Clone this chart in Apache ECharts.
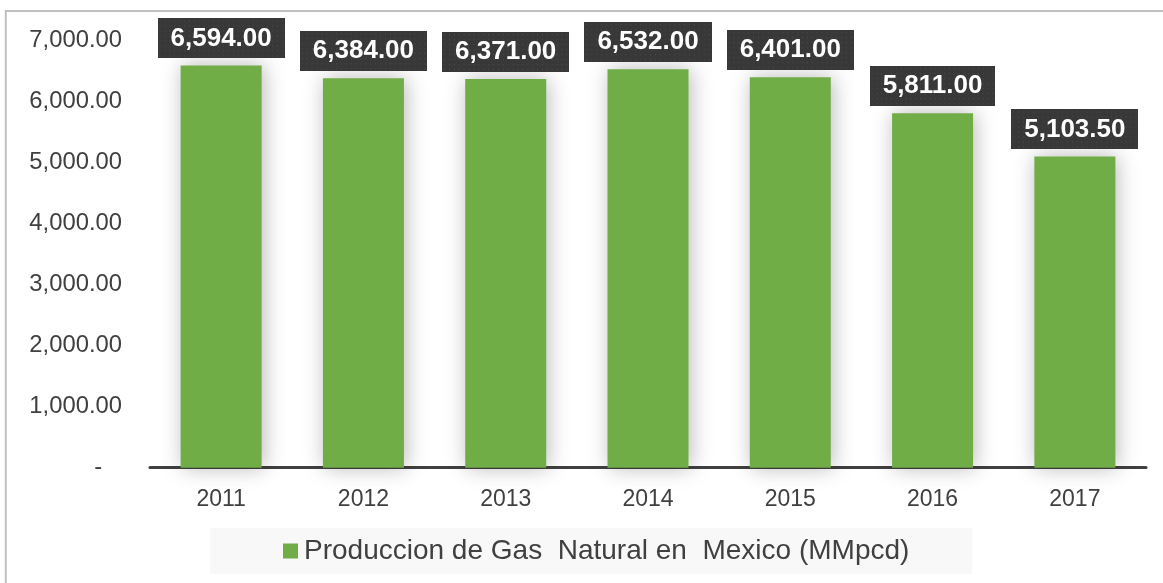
<!DOCTYPE html>
<html>
<head>
<meta charset="utf-8">
<script src="https://cdn.jsdelivr.net/npm/echarts@6/dist/echarts.min.js"></script>
<style>
html,body{margin:0;padding:0;background:#fff;}
#c{width:1163px;height:583px;}
</style>
</head>
<body>
<div id="c"></div>
<script>
const categories = ['2011','2012','2013','2014','2015','2016','2017'];
const values = [6594.00, 6384.00, 6371.00, 6532.00, 6401.00, 5811.00, 5103.50];
const seriesName = 'Produccion de Gas  Natural en  Mexico (MMpcd)';
const yTicks = [0, 1000, 2000, 3000, 4000, 5000, 6000, 7000];

function fmt(v, d) {
  return v.toLocaleString('en-US', {minimumFractionDigits: d, maximumFractionDigits: d});
}

// dotted dark texture for the data label boxes
const tex = document.createElement('canvas');
tex.width = 130; tex.height = 40;
(function () {
  const g = tex.getContext('2d');
  g.fillStyle = '#383838';
  g.fillRect(0, 0, tex.width, tex.height);
  g.fillStyle = '#4d4d4d';
  for (let y = 2; y < tex.height; y += 5) {
    for (let x = 2; x < tex.width; x += 5) {
      g.fillRect(x, y, 1, 1);
    }
  }
})();

const chart = echarts.init(document.getElementById('c'), null, {renderer: 'canvas'});
const FONT = '"Liberation Sans", Arial, sans-serif';

chart.setOption({
  animation: false,
  backgroundColor: '#fff',
  graphic: [{
    type: 'rect',
    shape: {x: 5.8, y: 11, width: 1300, height: 700},
    style: {fill: 'none', stroke: '#BFBFBF', lineWidth: 2},
    silent: true,
    z: -1
  }],
  grid: {left: 150, right: 17, top: 40.7, bottom: 115.3, containLabel: false},
  xAxis: {
    type: 'category',
    data: categories,
    axisLine: {show: true, lineStyle: {color: '#404040', width: 3}},
    axisTick: {show: false},
    axisLabel: {color: '#404040', fontSize: 23, fontFamily: FONT, margin: 20}
  },
  yAxis: {
    type: 'value',
    min: yTicks[0],
    max: yTicks[yTicks.length - 1],
    interval: 1000,
    splitLine: {show: false},
    axisLine: {show: false},
    axisTick: {show: false},
    axisLabel: {
      color: '#404040', fontSize: 23.8, fontFamily: FONT, margin: 28,
      formatter: function (v) { return v === 0 ? '-   ' : fmt(v, 2); }
    }
  },
  legend: {
    show: true,
    left: 210,
    top: 528,
    backgroundColor: '#F8F8F8',
    padding: [9, 63, 9, 73],
    itemWidth: 15,
    itemHeight: 15,
    icon: 'rect',
    textStyle: {color: '#404040', fontSize: 28, fontFamily: FONT, padding: [0, 0, 0, 1]},
    data: [seriesName]
  },
  series: [{
    name: seriesName,
    type: 'bar',
    data: values,
    barWidth: 81,
    itemStyle: {
      color: '#70AD47',
      shadowColor: 'rgba(0,0,0,0.28)',
      shadowBlur: 20,
      shadowOffsetX: 2,
      shadowOffsetY: 0
    },
    label: {
      show: true,
      position: 'top',
      distance: 7,
      formatter: function (p) { return fmt(p.value, 2); },
      color: '#fff',
      fontSize: 26,
      fontWeight: 'bold',
      fontFamily: FONT,
      lineHeight: 26,
      backgroundColor: {image: tex},
      padding: [7, 13, 7, 13],
      shadowColor: 'rgba(0,0,0,0.35)',
      shadowBlur: 6,
      shadowOffsetX: 4,
      shadowOffsetY: 4
    }
  }]
});
</script>
</body>
</html>
